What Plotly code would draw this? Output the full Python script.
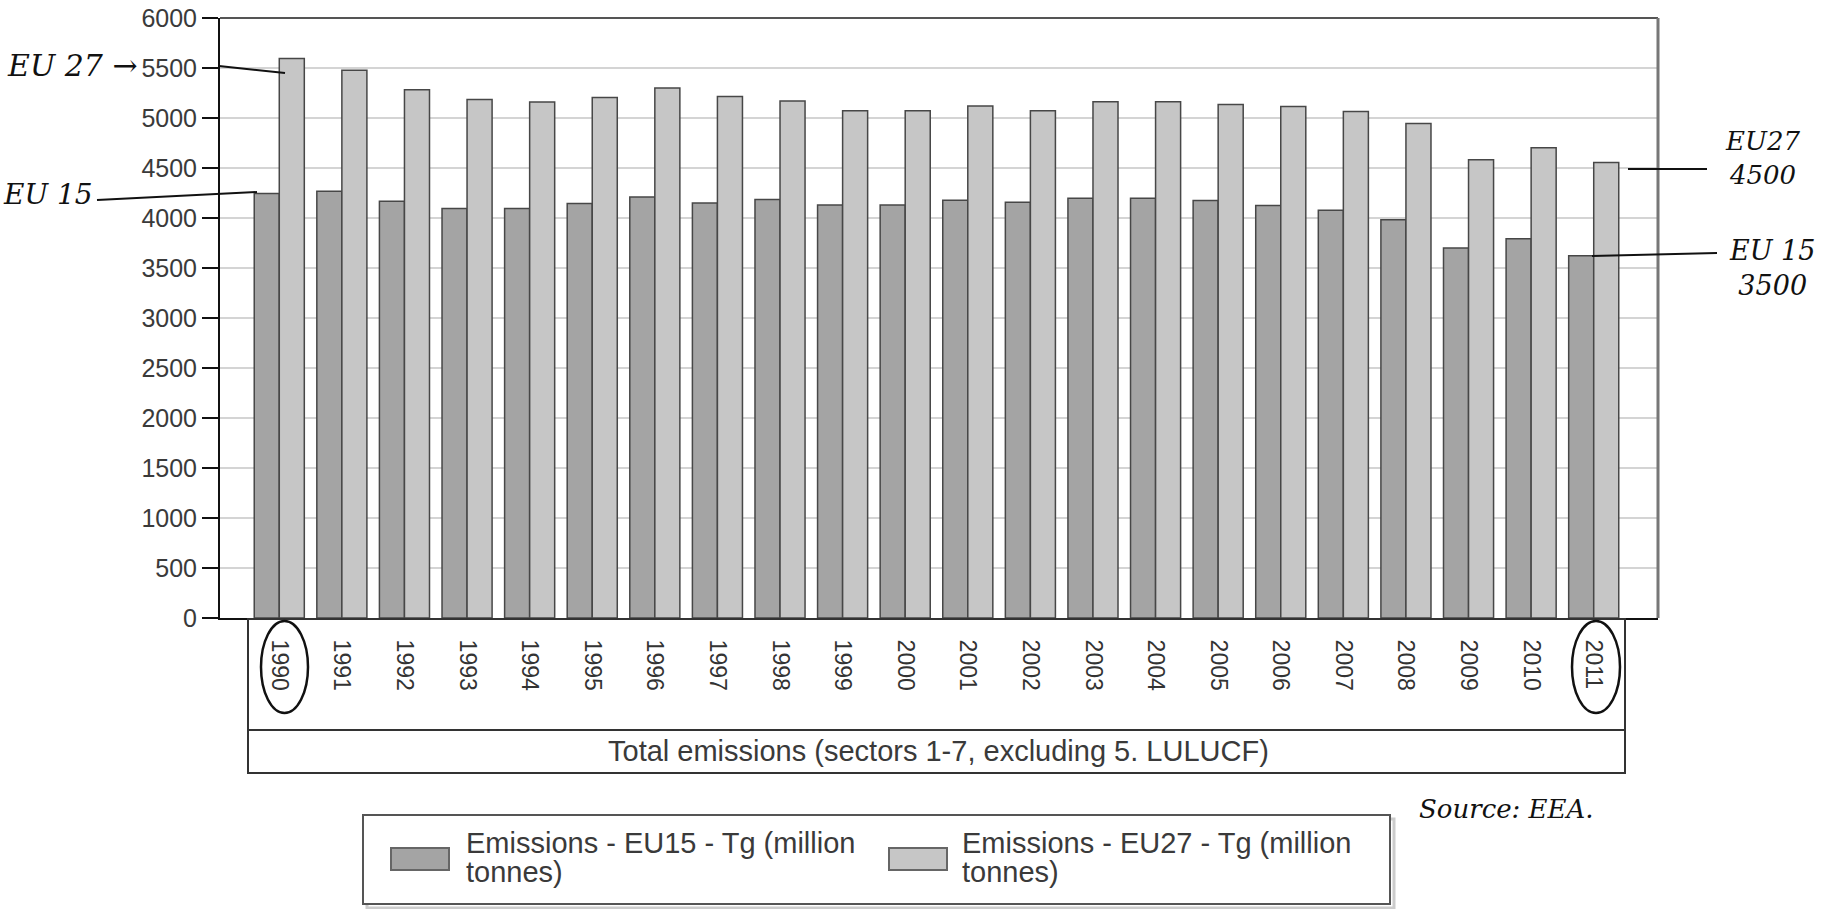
import plotly.graph_objects as go

years = [str(y) for y in range(1990, 2012)]
eu15 = [4244, 4268, 4167, 4094, 4094, 4144, 4211, 4151, 4184, 4131, 4131,
        4178, 4157, 4198, 4198, 4174, 4124, 4077, 3983, 3699, 3792, 3622]
eu27 = [5594, 5477, 5283, 5186, 5159, 5206, 5300, 5216, 5169, 5072, 5072,
        5119, 5072, 5162, 5162, 5135, 5115, 5065, 4944, 4583, 4703, 4556]
series_names = ["Emissions - EU15 - Tg (million tonnes)",
                "Emissions - EU27 - Tg (million tonnes)"]
series_colors = ["#a4a4a4", "#c6c6c6"]
y_ticks = list(range(0, 6001, 500))
category_title = "Total emissions (sectors 1-7, excluding 5. LULUCF)"

W, H = 1834, 909
L, R, T, B = 220, 1658, 18, 618


def px(x):
    return (x - L) / (R - L)


def py(y):
    return (B - y) / (B - T)


FONT = "Liberation Sans, Arial, sans-serif"
HAND = "DejaVu Serif"

fig = go.Figure()
for vals, name, col in zip([eu15, eu27], series_names, series_colors):
    fig.add_trace(go.Bar(x=years, y=vals, name=name,
                         marker=dict(color=col, line=dict(color="#474747", width=1.5))))

fig.update_layout(
    width=W, height=H,
    margin=dict(l=L, r=W - R, t=T, b=H - B, autoexpand=False),
    paper_bgcolor="white", plot_bgcolor="white",
    barmode="group", bargap=0.2, bargroupgap=0,
    font=dict(family=FONT, size=24, color="#3a3a3a"),
    showlegend=False,
    xaxis=dict(type="category", range=[-0.947, 22.027], tickangle=90,
               showgrid=False, showline=True, linecolor="#111111", linewidth=2,
               ticks="", ticklabelstandoff=15, tickfont=dict(size=23, color="#333333"),
               zeroline=False, automargin=False),
    yaxis=dict(range=[0, 6000], tickvals=y_ticks, ticks="outside", ticklen=16,
               tickwidth=2, tickcolor="#111111", showline=True, linecolor="#111111",
               linewidth=2, showgrid=True, gridcolor="#d4d4d4", gridwidth=2,
               zeroline=False, tickfont=dict(size=25, color="#3a3a3a"), automargin=False),
)

shapes = []
# plot frame top and right
shapes.append(dict(type="line", xref="paper", yref="paper", x0=0, x1=1, y0=1, y1=1,
                   line=dict(color="#555555", width=2)))
shapes.append(dict(type="line", xref="paper", yref="paper", x0=1, x1=1, y0=0, y1=1,
                   line=dict(color="#777777", width=3)))
# category box
shapes.append(dict(type="rect", xref="paper", yref="paper", x0=px(248), x1=px(1625),
                   y0=py(773), y1=py(619), line=dict(color="#333333", width=2)))
shapes.append(dict(type="line", xref="paper", yref="paper", x0=px(248), x1=px(1625),
                   y0=py(730), y1=py(730), line=dict(color="#333333", width=2)))
# legend box with light shadow
shapes.append(dict(type="rect", xref="paper", yref="paper", x0=px(367), x1=px(1394),
                   y0=py(908), y1=py(819), line=dict(color="#cccccc", width=3)))
shapes.append(dict(type="rect", xref="paper", yref="paper", x0=px(363), x1=px(1390),
                   y0=py(904), y1=py(815), fillcolor="white", line=dict(color="#555555", width=2)))
# legend swatches
for (x0, x1), col in zip([(391, 449), (889, 947)], series_colors):
    shapes.append(dict(type="rect", xref="paper", yref="paper", x0=px(x0), x1=px(x1),
                       y0=py(870), y1=py(848), fillcolor=col,
                       line=dict(color="#666666", width=2)))
# handwritten ellipses
shapes.append(dict(type="circle", xref="paper", yref="paper", x0=px(261), x1=px(308),
                   y0=py(713), y1=py(621), line=dict(color="#111111", width=2.5)))
shapes.append(dict(type="circle", xref="paper", yref="paper", x0=px(1572), x1=px(1620),
                   y0=py(713), y1=py(621), line=dict(color="#111111", width=2.5)))
# handwritten lines
for (x0, y0, x1, y1) in [(219, 66, 285, 73), (97, 200, 257, 192),
                         (1628, 169, 1707, 169), (1592, 256, 1717, 253)]:
    shapes.append(dict(type="line", xref="paper", yref="paper", x0=px(x0), x1=px(x1),
                       y0=py(y0), y1=py(y1), line=dict(color="#111111", width=2)))
fig.update_layout(shapes=shapes)

annos = [
    dict(text=category_title, x=px(938), y=py(751), font=dict(size=29, color="#3a3a3a", family=FONT)),
    dict(text="EU 27 →", x=px(72), y=py(66), font=dict(size=30, color="#111111", family=HAND, style="italic")),
    dict(text="EU 15", x=px(48), y=py(194), font=dict(size=28, color="#111111", family=HAND, style="italic")),
    dict(text="EU27<br>4500", x=px(1762), y=py(158), font=dict(size=26, color="#111111", family=HAND, style="italic")),
    dict(text="EU 15<br>3500", x=px(1772), y=py(268), font=dict(size=27, color="#111111", family=HAND, style="italic")),
    dict(text="Source: EEA.", x=px(1506), y=py(809), font=dict(size=26, color="#111111", family=HAND, style="italic")),
]
# legend labels (two lines each)
for x_text, name in zip([464, 960], series_names):
    first, second = name.rsplit(" ", 1)
    annos.append(dict(text=first, x=px(x_text), y=py(843), xanchor="left",
                      font=dict(size=29, color="#3a3a3a", family=FONT)))
    annos.append(dict(text=second, x=px(x_text), y=py(872), xanchor="left",
                      font=dict(size=29, color="#3a3a3a", family=FONT)))
for a in annos:
    a.setdefault("xanchor", "center")
    fig.add_annotation(xref="paper", yref="paper", showarrow=False,
                       yanchor="middle", **a)

fig.write_html("out.html")
